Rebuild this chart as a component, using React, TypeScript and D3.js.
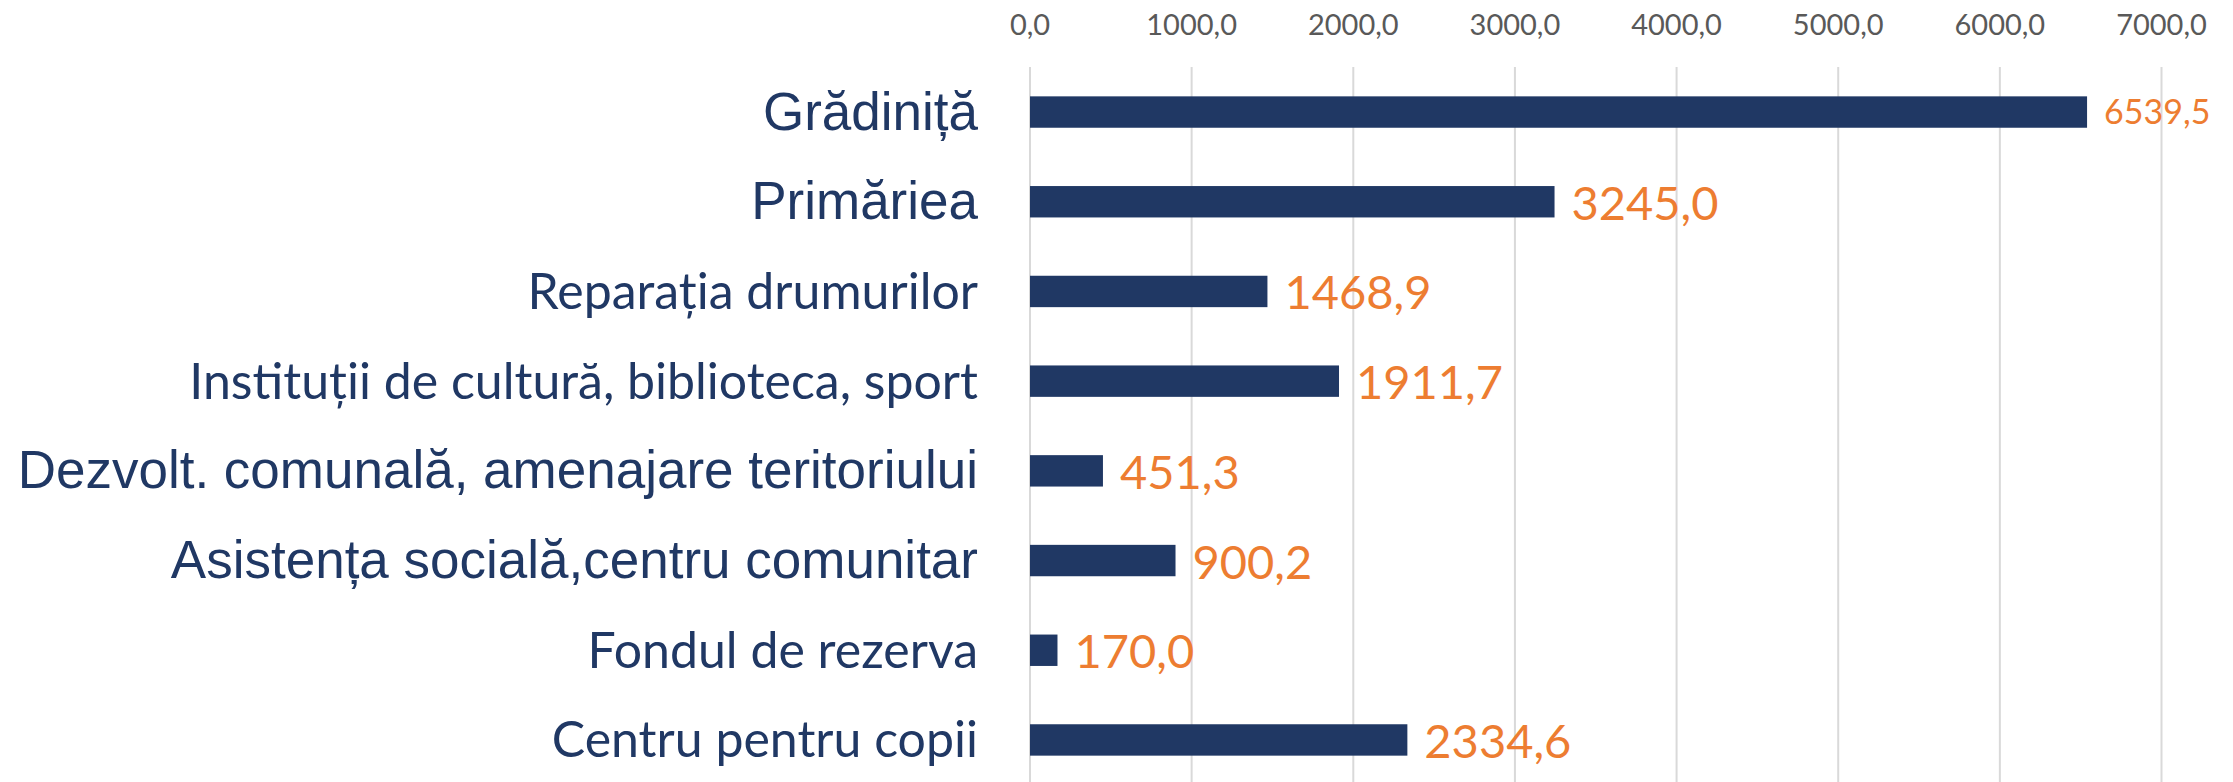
import React from "react";
import * as d3 from "d3";

const categories = [
  "Grădiniță",
  "Primăriea",
  "Reparația drumurilor",
  "Instituții de cultură, biblioteca, sport",
  "Dezvolt. comunală, amenajare teritoriului",
  "Asistența socială,centru comunitar",
  "Fondul de rezerva",
  "Centru pentru copii",
];
const values = [6539.5, 3245.0, 1468.9, 1911.7, 451.3, 900.2, 170.0, 2334.6];
const tickValues = [0, 1000, 2000, 3000, 4000, 5000, 6000, 7000];

const W = 2233;
const H = 782;

const fmt = (v: number) => v.toFixed(1).replace(".", ",");

export default function App() {
  const x = d3.scaleLinear().domain([0, 7000]).range([1030, 2161.5]);
  const y = d3
    .scaleBand<string>()
    .domain(categories)
    .range([67.2, 784.8])
    .paddingInner(0.65)
    .paddingOuter(0.325);

  const arialLabels = new Set([0, 1, 4, 5]);
  const navy = "#203864";
  const orange = "#ED7D31";

  return (
    <svg
      width={W}
      height={H}
      style={{ position: "absolute", left: 0, top: 0, background: "#fff" }}
    >
      <rect x={0} y={0} width={W} height={H} fill="#fff" />
      {tickValues.map((t) => (
        <g key={t}>
          <line
            x1={x(t)}
            x2={x(t)}
            y1={67}
            y2={H}
            stroke="#d9d9d9"
            strokeWidth={2}
          />
          <text
            x={x(t)}
            y={35}
            textAnchor="middle"
            fontFamily="Lato, 'Open Sans', sans-serif"
            fontSize={29}
            fill="#595959"
          >
            {fmt(t)}
          </text>
        </g>
      ))}
      {categories.map((c, i) => {
        const yc = (y(c) as number) + y.bandwidth() / 2;
        const isArial = arialLabels.has(i);
        return (
          <g key={c}>
            <rect
              x={x(0)}
              y={y(c)}
              width={x(values[i]) - x(0)}
              height={y.bandwidth()}
              fill={navy}
            />
            <text
              x={978}
              y={yc + 17.5}
              textAnchor="end"
              fontFamily={
                isArial
                  ? "'Liberation Sans', Arial, sans-serif"
                  : "Lato, 'Open Sans', sans-serif"
              }
              fontSize={isArial ? 53 : 50}
              fill={navy}
            >
              {c}
            </text>
            <text
              x={x(values[i]) + 17}
              y={yc + (i === 0 ? 12 : 18)}
              textAnchor="start"
              fontFamily="Lato, 'Open Sans', sans-serif"
              fontSize={i === 0 ? 34 : 47}
              fill={orange}
            >
              {fmt(values[i])}
            </text>
          </g>
        );
      })}
    </svg>
  );
}
